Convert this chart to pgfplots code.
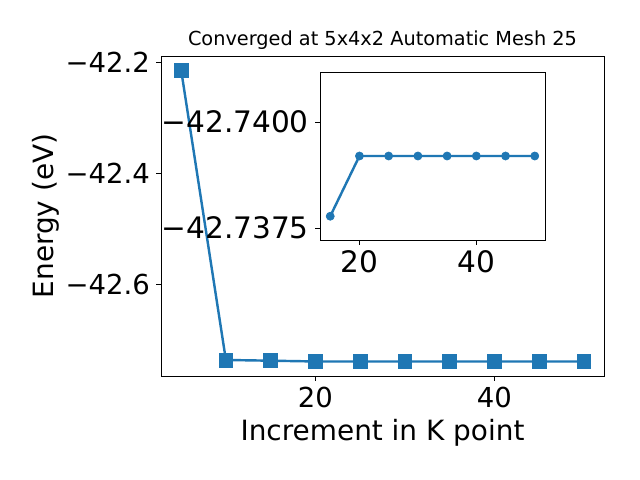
\documentclass[border=0pt]{standalone}
\usepackage{pgfplots}
\pgfplotsset{compat=1.18}
\usepackage{fontspec}
\setmainfont{DejaVu Sans}
\definecolor{mplblue}{HTML}{1F77B4}
\begin{document}
\begin{tikzpicture}[x=1pt,y=1pt]
\useasboundingbox (0,0) rectangle (460.8,345.6);
% main axes: px 161..604 x 56..376
\begin{axis}[
  at={(115.92pt,74.88pt)}, anchor=south west,
  scale only axis, width=318.96pt, height=230.4pt,
  xmin=2.75, xmax=52.25, ymin=-42.7654, ymax=-42.1883,
  xtick={20,40}, xticklabels={20,40},
  ytick={-42.6,-42.4,-42.2}, yticklabels={−42.6,−42.4,−42.2},
  tick align=outside, xtick pos=bottom, ytick pos=left,
  major tick length=3.5pt,
  tick style={black, line width=0.6pt},
  axis line style={line width=0.6pt},
  ticklabel style={font=\fontsize{19.8}{22}\selectfont},
  xticklabel style={yshift=-1pt},
  yticklabel style={xshift=-1pt},
  xlabel={Increment in K point}, ylabel={Energy (eV)},
  label style={font=\fontsize{20.1}{22}\selectfont},
  xlabel style={yshift=-1pt},
  ylabel style={yshift=-2pt},
  title={Converged at 5x4x2 Automatic Mesh 25},
  title style={font=\fontsize{13.9}{16}\selectfont, yshift=-5pt},
]
\addplot[mplblue, line width=1.75pt, mark=square*, mark size=5pt, mark options={fill=mplblue, draw=mplblue, line width=0.5pt}]
  coordinates {(5,-42.2135) (10,-42.7365) (15,-42.7378) (20,-42.7392) (25,-42.7392) (30,-42.7392) (35,-42.7392) (40,-42.7392) (45,-42.7392) (50,-42.7392)};
\end{axis}
% inset axes: px 320..545 x 72..240 ; y values as (E + 42.74) * 1e4
\begin{axis}[
  at={(230.4pt,172.8pt)}, anchor=south west,
  scale only axis, width=162pt, height=120.96pt,
  axis background/.style={fill=white},
  y dir=reverse,
  xmin=13.25, xmax=51.75, ymin=-11.8, ymax=27.8,
  xtick={20,40}, xticklabels={20,40},
  ytick={0,25}, yticklabels={−42.7400,−42.7375},
  tick align=outside, xtick pos=bottom, ytick pos=left,
  major tick length=3.5pt,
  tick style={black, line width=0.6pt},
  axis line style={line width=0.6pt},
  ticklabel style={font=\fontsize{21.3}{24}\selectfont},
  xticklabel style={yshift=-0.5pt},
  yticklabel style={xshift=-1pt},
]
\addplot[mplblue, line width=1.75pt, mark=*, mark size=2.9pt, mark options={fill=mplblue, draw=mplblue, line width=0.5pt}]
  coordinates {(15,22.2) (20,8.0) (25,8.0) (30,8.0) (35,8.0) (40,8.0) (45,8.0) (50,8.0)};
\end{axis}
\end{tikzpicture}
\end{document}
